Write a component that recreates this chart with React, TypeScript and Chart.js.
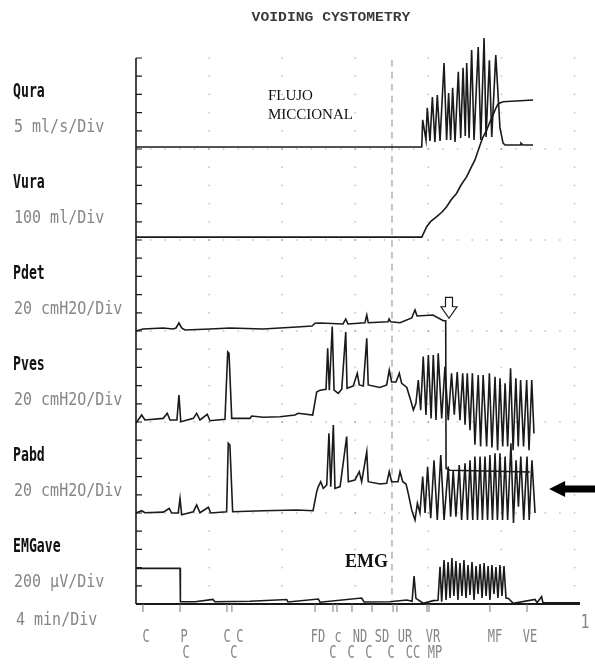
import React, { useEffect, useRef } from 'react';
import { Chart, registerables } from 'chart.js';

Chart.register(...registerables);

// ---------- channel description ----------
const channelNames = ['Qura', 'Vura', 'Pdet', 'Pves', 'Pabd', 'EMGave'];
const channelUnits = ['5 ml/s/Div', '100 ml/Div', '20 cmH2O/Div', '20 cmH2O/Div', '20 cmH2O/Div', '200 µV/Div'];
const unitsPerDiv = [5, 100, 20, 20, 20, 200];
const channelBaseDiv = [25, 20, 15, 10, 5, 0];
const divsPerChannel = 5;
const timeScaleLabel = '4 min/Div';
const minutesPerDiv = 4;
const totalMinutes = 24.3;
const title = 'VOIDING CYSTOMETRY';

// ---------- series: [minutes, value in channel units] ----------
const quraFlow: [number, number][] = [
  [0, 0.55], [15.64, 0.55], [15.69, 8.0], [15.87, 2.5], [15.94, 11.3], [16.09, 2.2], [16.22, 14.3], [16.36, 1.9],
  [16.49, 14.8], [16.64, 2.2], [16.86, 23.6], [17.0, 2.5], [17.11, 15.4], [17.22, 2.5], [17.33, 16.8], [17.46, 1.9],
  [17.64, 21.2], [17.77, 3.0], [17.9, 22.3], [18.02, 3.6], [18.1, 23.6], [18.23, 3.0], [18.37, 27.2], [18.5, 2.5],
  [18.73, 28.0], [18.87, 2.5], [19.05, 30.5], [19.16, 3.3], [19.34, 24.4], [19.47, 3.3], [19.69, 25.8], [19.92, 5.8],
  [20.09, 1.6], [20.2, 1.1], [21.02, 1.1], [21.07, 1.6], [21.18, 1.1], [21.73, 1.1],
];

const vuraVolume: [number, number][] = [
  [0, 16], [15.64, 16], [15.91, 73], [16.15, 104], [16.46, 128], [16.75, 154], [17.0, 183], [17.24, 220],
  [17.55, 257], [17.79, 302], [18.1, 348], [18.33, 396], [18.55, 440], [18.83, 522], [18.99, 566], [19.19, 604],
  [19.37, 648], [19.54, 687], [19.7, 725], [19.81, 747], [19.92, 753], [20.09, 760], [21.73, 769],
];

const pdetPressure: [number, number][] = [
  [0, 0], [0.38, 2.2], [1.48, 3.3], [2.02, 2.2], [2.19, 3.3], [2.35, 8.8], [2.5, 3.3], [2.68, 1.1], [4.05, 2.2],
  [5.14, 3.3], [6.95, 2.2], [8.8, 4.4], [9.63, 5.5], [9.8, 8.5], [10.08, 8.8], [11.33, 7.7], [11.48, 13.2],
  [11.6, 7.7], [12.53, 9.1], [12.63, 17.6], [12.71, 9.1], [13.79, 10.2], [13.85, 13.2], [13.93, 10.2],
  [14.45, 9.1], [15.09, 14.3], [15.22, 20.9], [15.27, 23.1], [15.38, 16.5], [15.82, 17.0], [16.25, 17.6],
  [16.82, 11.3], [16.95, 11.3], [16.97, -151], [17.19, -153], [21.56, -155],
];

const pvesPressure: [number, number][] = [
  [0, -1], [0.31, 7.7], [0.49, 2.2], [1.49, 4], [1.71, 9.6], [1.86, 2.2], [2.24, 2.2], [2.35, 29.7], [2.45, 0.3],
  [3.14, 4], [3.32, 9.6], [3.5, 2.2], [3.9, 8.5], [4.05, 1.4], [4.87, 3], [5.02, 77], [5.09, 75.5], [5.24, 4],
  [6.24, 4], [6.33, 6.6], [6.97, 5.2], [7.88, 5.8], [8.7, 7.7], [8.88, 9.6], [9.67, 7.7], [9.89, 33], [10.08, 35],
  [10.4, 36], [10.49, 81], [10.58, 35], [10.74, 105], [10.84, 35], [11.07, 31.5], [11.26, 36], [11.48, 99],
  [11.55, 37], [11.89, 39.6], [12.11, 53.5], [12.22, 40.7], [12.44, 39.6], [12.63, 92], [12.71, 40.7],
  [13.35, 38], [13.72, 40.7], [13.86, 57], [13.99, 44], [14.23, 44], [14.41, 53.5], [14.54, 42.5], [14.82, 38],
  [15.0, 26], [15.18, 13.2], [15.32, 20.5], [15.45, 46], [15.58, 13], [15.72, 72], [15.87, 7.7], [16.0, 73.6],
  [16.15, 4], [16.27, 73.6], [16.42, 2.2], [16.54, 75.5], [16.73, 4], [16.91, 61], [17.09, 2], [17.27, 53.5],
  [17.42, 8], [17.58, 55], [17.73, 2], [17.88, 53.5], [18.01, -3], [18.13, 53.5], [18.28, -9], [18.41, 53.5],
  [18.55, -25], [18.73, 51.7], [18.86, -27], [19.0, 51.7], [19.19, -27], [19.34, 53.5], [19.48, -28],
  [19.65, 49.8], [19.79, -31], [19.92, 48], [20.07, -27], [20.2, 42.5], [20.34, -27], [20.5, 59], [20.64, -31],
  [20.79, 48], [20.92, -27], [21.05, 46], [21.21, -27], [21.38, 46], [21.51, -31], [21.66, 46], [21.78, -12.5],
];

const pabdPressure: [number, number][] = [
  [0, 0], [0.31, 2.5], [0.49, 0.3], [1.49, 1], [1.82, 5], [1.95, 0], [2.31, 0], [2.41, 16], [2.5, -2], [3.14, 1.4],
  [3.32, 8.8], [3.5, 0.3], [3.96, 6.3], [4.09, 0], [4.96, 1.4], [5.05, 76.6], [5.14, 74.7], [5.29, 1.4],
  [6.97, 2.5], [8.8, 3.3], [9.69, 2.5], [9.89, 23.4], [9.98, 29], [10.11, 34.4], [10.25, 27], [10.44, 30.8],
  [10.56, 87.6], [10.66, 29], [10.8, 96.7], [10.89, 27], [11.17, 29], [11.53, 83.9], [11.62, 34.4], [11.98, 36.3],
  [12.22, 45.4], [12.35, 34.4], [12.63, 67.4], [12.71, 34.4], [13.35, 31.9], [13.72, 32.6], [13.86, 45.4],
  [13.99, 34.4], [14.34, 34.4], [14.45, 45.4], [14.6, 34.4], [14.78, 31.9], [14.9, 21.6], [15.09, 3.3],
  [15.27, -7.7], [15.4, 10.7], [15.54, 0], [15.69, 40], [15.82, 0], [15.96, 50.9], [16.13, -5.8], [16.31, 58],
  [16.49, -7.7], [16.68, 63.7], [16.86, -7.7], [17.09, 51], [17.22, -4], [17.36, 47], [17.51, -4], [17.69, 52.7],
  [17.82, -7.7], [18.01, 54.6], [18.14, -7.7], [18.28, 58], [18.43, -7.7], [18.55, 62], [18.69, -7.7], [18.83, 62],
  [18.96, -7.7], [19.1, 62], [19.24, -7.7], [19.37, 63.7], [19.51, -7.7], [19.65, 65.6], [19.78, -7.7],
  [19.92, 65.6], [20.06, -7.7], [20.2, 62], [20.34, -7.7], [20.52, 76.6], [20.66, -11], [20.8, 58], [20.93, 7],
  [21.06, 62], [21.22, -7.7], [21.4, 62], [21.52, -7.7], [21.67, 58], [21.84, 0],
];

const emgAverage: [number, number][] = [
  [0, 392], [2.41, 392], [2.43, 25], [3.23, 25], [4.21, 50], [4.32, 25], [6.24, 30], [8.25, 50], [8.32, 22],
  [9.98, 55], [10.07, 20], [12.35, 66], [12.48, 22], [13.9, 25], [14.82, 44], [15.11, 30], [15.22, 308],
  [15.32, 62], [15.72, 8], [16.27, 37], [16.53, 40], [16.64, 410], [16.73, 25], [16.86, 484], [16.97, 44],
  [17.08, 462], [17.19, 66], [17.29, 505], [17.4, 88], [17.51, 473], [17.62, 44], [17.73, 451], [17.84, 88],
  [17.95, 484], [18.06, 66], [18.17, 429], [18.28, 99], [18.39, 462], [18.5, 44], [18.61, 418], [18.72, 110],
  [18.83, 440], [18.94, 66], [19.05, 451], [19.16, 88], [19.27, 418], [19.37, 44], [19.48, 429], [19.59, 110],
  [19.7, 407], [19.81, 66], [19.92, 429], [20.03, 88], [20.14, 418], [20.25, 66], [20.38, 60], [20.65, 8],
  [21.84, 50], [21.95, 15], [22.2, 80], [22.27, 15], [24.3, 12],
];

const channelSeries = [quraFlow, vuraVolume, pdetPressure, pvesPressure, pabdPressure, emgAverage];

// ---------- event marks on the time axis ----------
const eventTicks = [0.38, 2.41, 4.98, 5.25, 9.8, 10.78, 11.0, 11.82, 12.92, 14.07, 14.28, 15.93, 16.04, 19.37, 21.4];
const eventLabelsTop: [number, string][] = [
  [0.55, 'C'], [2.63, 'P'], [4.98, 'C'], [5.69, 'C'], [9.96, 'FD'], [11.06, 'c'], [12.26, 'ND'], [13.46, 'SD'],
  [14.72, 'UR'], [16.25, 'VR'], [19.65, 'MF'], [21.56, 'VE'],
];
const eventLabelsBottom: [number, string][] = [
  [2.74, 'C'], [5.36, 'C'], [10.78, 'C'], [11.77, 'C'], [12.75, 'C'], [13.96, 'C'], [15.16, 'CC'], [16.36, 'MP'],
];
const dashedMarkerTime = 14.01;
const pageNumber = '1';

// annotation anchors (minutes, chart divisions)
const flujoAnchor: [number, number] = [7.22, 27.9];
const emgAnchor: [number, number] = [11.44, 2.31];
const hollowArrowAnchor: [number, number, number] = [17.13, 16.85, 15.7];
const blackArrowAnchor: [number, number] = [22.61, 6.32];

const INK = '#1a1a1a';
const GREY = '#858585';

function stretchedText(
  ctx: CanvasRenderingContext2D, text: string, x: number, y: number, font: string, color: string,
  align: CanvasTextAlign, sx: number, sy: number,
) {
  ctx.save();
  ctx.font = font;
  ctx.fillStyle = color;
  ctx.textAlign = align;
  ctx.textBaseline = 'middle';
  ctx.translate(x, y);
  ctx.scale(sx, sy);
  ctx.fillText(text, 0, 0);
  ctx.restore();
}

const paperPlugin = {
  id: 'paper',
  beforeDatasetsDraw(chart: any) {
    const { ctx } = chart;
    const xs = chart.scales.x;
    const ys = chart.scales.y;
    const X = (v: number) => xs.getPixelForValue(v);
    const Y = (v: number) => ys.getPixelForValue(v);
    const topDiv = channelBaseDiv[0] + divsPerChannel;
    ctx.save();
    // faint dot grid
    ctx.fillStyle = 'rgba(0,0,0,0.22)';
    for (let m = minutesPerDiv; m <= 24; m += minutesPerDiv) {
      for (let d = 1; d <= topDiv; d++) ctx.fillRect(X(m) - 0.8, Y(d) - 0.8, 1.6, 1.6);
    }
    for (const b of channelBaseDiv) {
      if (b === 0) continue;
      for (let m = 0.8; m < 24; m += 0.8) ctx.fillRect(X(m) - 0.8, Y(b) - 0.8, 1.6, 1.6);
    }
    // dashed vertical marker
    ctx.strokeStyle = '#a8a8a8';
    ctx.lineWidth = 1.3;
    ctx.setLineDash([7, 5]);
    ctx.beginPath();
    ctx.moveTo(X(dashedMarkerTime), Y(topDiv - 0.1));
    ctx.lineTo(X(dashedMarkerTime), Y(0.2));
    ctx.stroke();
    ctx.setLineDash([]);
    // left axis with division ticks
    ctx.strokeStyle = INK;
    ctx.lineWidth = 1.6;
    ctx.beginPath();
    ctx.moveTo(X(0), Y(topDiv));
    ctx.lineTo(X(0), Y(0));
    ctx.stroke();
    ctx.lineWidth = 1.2;
    ctx.beginPath();
    for (let d = 0; d <= topDiv; d++) {
      ctx.moveTo(X(0), Y(d));
      ctx.lineTo(X(0) + 6, Y(d));
    }
    ctx.stroke();
    // time axis
    ctx.lineWidth = 2;
    ctx.beginPath();
    ctx.moveTo(X(0), Y(0));
    ctx.lineTo(X(totalMinutes), Y(0));
    ctx.stroke();
    ctx.strokeStyle = '#777';
    ctx.lineWidth = 1;
    ctx.beginPath();
    for (const t of eventTicks) {
      ctx.moveTo(X(t), Y(0));
      ctx.lineTo(X(t), Y(0) + 8);
    }
    ctx.stroke();
    ctx.restore();
  },
  afterDraw(chart: any) {
    const { ctx } = chart;
    const xs = chart.scales.x;
    const ys = chart.scales.y;
    const X = (v: number) => xs.getPixelForValue(v);
    const Y = (v: number) => ys.getPixelForValue(v);
    // title
    stretchedText(ctx, title, 331, 18, 'bold 14px "Liberation Mono"', '#3a3a3a', 'center', 1.05, 0.95);
    // channel labels
    channelNames.forEach((name, i) => {
      const top = Y(channelBaseDiv[i] + divsPerChannel);
      stretchedText(ctx, name, 13, top + 34, 'bold 15px "DejaVu Sans Mono"', '#111', 'left', 0.88, 1.3);
      stretchedText(ctx, channelUnits[i], 14, top + 69, '15px "DejaVu Sans Mono"', GREY, 'left', 1.0, 1.2);
    });
    stretchedText(ctx, timeScaleLabel, 16, Y(0) + 16, '15px "DejaVu Sans Mono"', GREY, 'left', 1.0, 1.2);
    // event labels
    for (const [t, s] of eventLabelsTop) {
      stretchedText(ctx, s, X(t), Y(0) + 34, '12px "DejaVu Sans Mono"', GREY, 'center', 1.0, 1.4);
    }
    for (const [t, s] of eventLabelsBottom) {
      stretchedText(ctx, s, X(t), Y(0) + 50, '12px "DejaVu Sans Mono"', GREY, 'center', 1.0, 1.4);
    }
    stretchedText(ctx, pageNumber, X(totalMinutes) + 5, Y(0) + 19, '15px "DejaVu Sans Mono"', GREY, 'center', 1.0, 1.3);
    // annotations
    ctx.save();
    ctx.fillStyle = '#111';
    ctx.textBaseline = 'middle';
    ctx.font = '15px "Liberation Serif"';
    ctx.fillText('FLUJO', X(flujoAnchor[0]), Y(flujoAnchor[1]));
    ctx.fillText('MICCIONAL', X(flujoAnchor[0]), Y(flujoAnchor[1]) + 19);
    ctx.font = 'bold 18px "Liberation Serif"';
    ctx.fillText('EMG', X(emgAnchor[0]), Y(emgAnchor[1]));
    // hollow downward arrow
    const ax = X(hollowArrowAnchor[0]);
    const aTop = Y(hollowArrowAnchor[1]);
    const aTip = Y(hollowArrowAnchor[2]);
    const headTop = aTop + (aTip - aTop) * 0.45;
    ctx.beginPath();
    ctx.moveTo(ax - 3.5, aTop);
    ctx.lineTo(ax + 3.5, aTop);
    ctx.lineTo(ax + 3.5, headTop);
    ctx.lineTo(ax + 8, headTop);
    ctx.lineTo(ax, aTip);
    ctx.lineTo(ax - 8, headTop);
    ctx.lineTo(ax - 3.5, headTop);
    ctx.closePath();
    ctx.fillStyle = '#fff';
    ctx.fill();
    ctx.strokeStyle = INK;
    ctx.lineWidth = 1.2;
    ctx.stroke();
    // solid black left arrow
    const bx = X(blackArrowAnchor[0]);
    const by = Y(blackArrowAnchor[1]);
    ctx.beginPath();
    ctx.moveTo(bx, by);
    ctx.lineTo(bx + 16, by - 8);
    ctx.lineTo(bx + 16, by - 3.5);
    ctx.lineTo(595, by - 3.5);
    ctx.lineTo(595, by + 3.5);
    ctx.lineTo(bx + 16, by + 3.5);
    ctx.lineTo(bx + 16, by + 8);
    ctx.closePath();
    ctx.fillStyle = '#000';
    ctx.fill();
    ctx.restore();
  },
};

export default function App() {
  const canvasRef = useRef<HTMLCanvasElement | null>(null);

  useEffect(() => {
    const canvas = canvasRef.current;
    if (!canvas) return;
    const datasets = channelSeries.map((series, i) => ({
      label: channelNames[i],
      data: series.map(([t, v]) => ({ x: t, y: channelBaseDiv[i] + v / unitsPerDiv[i] })),
      borderColor: INK,
      borderWidth: 1.6,
      pointRadius: 0,
      tension: 0,
      fill: false,
      clip: 10,
    }));
    const chart = new Chart(canvas, {
      type: 'line',
      data: { datasets },
      options: {
        animation: false,
        responsive: false,
        devicePixelRatio: 1,
        parsing: false as any,
        layout: { padding: { left: 136, right: 15, top: 21.6, bottom: 61 } },
        scales: {
          x: { type: 'linear', min: 0, max: totalMinutes, display: false },
          y: { type: 'linear', min: 0, max: 32, display: false },
        },
        plugins: {
          legend: { display: false },
          tooltip: { enabled: false },
          title: { display: false },
        },
      },
      plugins: [paperPlugin],
    });
    return () => chart.destroy();
  }, []);

  return (
    <div style={{ position: 'fixed', left: 0, top: 0, width: 595, height: 665, background: '#fff' }}>
      <canvas ref={canvasRef} width={595} height={665} style={{ display: 'block' }} />
    </div>
  );
}
